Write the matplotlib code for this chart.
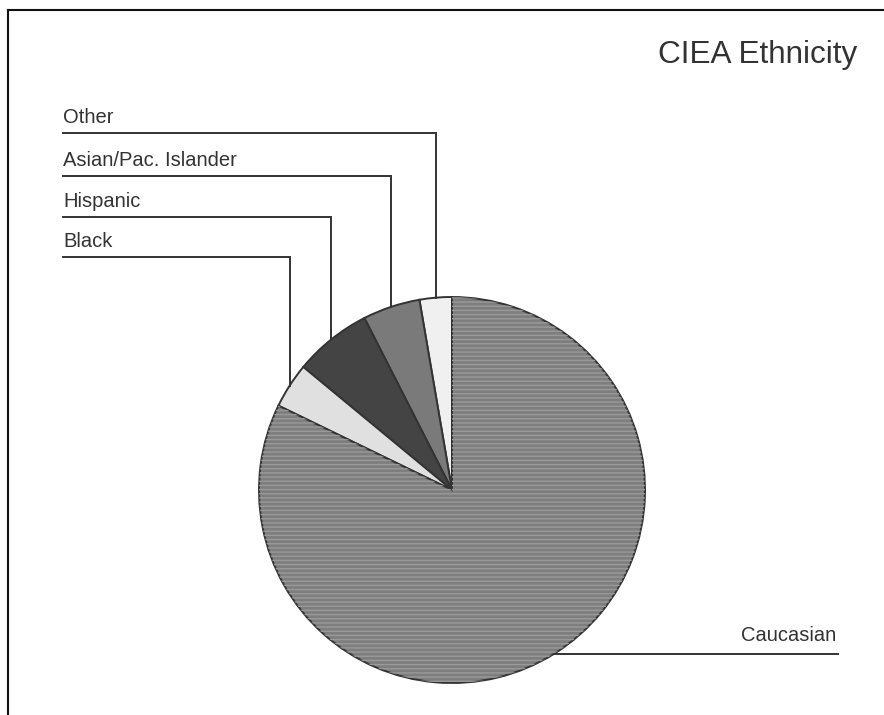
import numpy as np
import matplotlib.pyplot as plt
from matplotlib.lines import Line2D
from matplotlib.patches import Wedge

plt.rcParams['font.family'] = ['Liberation Sans', 'DejaVu Sans']

# Datos (porcentaje), en orden antihorario desde arriba
etnias = ['Other', 'Asian/Pac. Islander', 'Hispanic', 'Black', 'Caucasian']
valores = [2.7, 4.8, 6.5, 3.8, 82.2]
colores = ['#f0f0f0', '#7a7a7a', '#444444', '#e0e0e0', '#7e7e7e']

W, H = 884, 715
fig = plt.figure(figsize=(W / 100, H / 100), dpi=100)
ax = fig.add_axes([0, 0, 1, 1])

cx, cy, r = 452, H - 490, 193
wedges, _ = ax.pie(valores, colors=colores, startangle=90, counterclock=True,
                   center=(cx, cy), radius=r,
                   wedgeprops=dict(edgecolor='#333333', linewidth=1.4))

# textura de rayas en la porcion grande
wc = wedges[-1]
ax.add_patch(Wedge((cx, cy), r, wc.theta1, wc.theta2, facecolor='none',
                   edgecolor='#9a9a9a', hatch='----', linewidth=0))

ax.set_xlim(0, W)
ax.set_ylim(0, H)
ax.axis('off')

tc = '#333333'
lc = '#333333'
fs = 14.5

# Etiquetas con lineas guia a la izquierda
y_lineas = [133, 176, 217, 257]
for w, nombre, yl in zip(wedges[:4], etnias[:4], y_lineas):
    ang = np.deg2rad((w.theta1 + w.theta2) / 2)
    xe = cx + r * np.cos(ang)
    ye = cy + r * np.sin(ang)
    ax.plot([63, xe, xe], [H - yl, H - yl, ye], color=lc, lw=1.4,
            solid_joinstyle='miter')
    ax.text(63, H - yl + 10, nombre, fontsize=fs, color=tc,
            ha='left', va='baseline')

# Caucasian a la derecha
w = wedges[-1]
ang = np.deg2rad((w.theta1 + w.theta2) / 2)
xe = cx + r * np.cos(ang)
ye = cy + r * np.sin(ang)
ax.plot([xe, 838], [ye, ye], color=lc, lw=1.4)
ax.text(836, ye + 13, etnias[-1], fontsize=fs, color=tc, ha='right', va='baseline')

# Titulo
ax.text(857, H - 63, 'CIEA Ethnicity', fontsize=22.7, color=tc,
        ha='right', va='baseline')

# Marco
fig.add_artist(Line2D([8 / W, 1], [1 - 10 / H, 1 - 10 / H], color='#111111', lw=1.5,
                      transform=fig.transFigure))
fig.add_artist(Line2D([8 / W, 8 / W], [0, 1 - 10 / H], color='#111111', lw=1.5,
                      transform=fig.transFigure))

plt.savefig('out.png', dpi=100)
plt.close()
